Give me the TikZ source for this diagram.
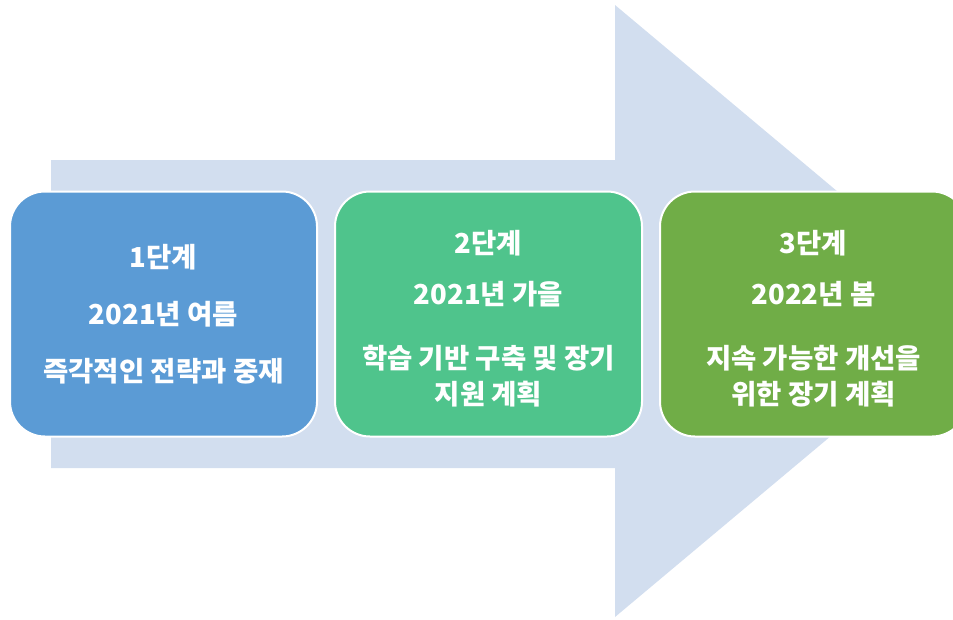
\documentclass[tikz,border=0pt]{standalone}
\usepackage{fontspec}
\usepackage{xcolor}
\setmainfont{Noto Sans CJK KR}
\usetikzlibrary{positioning}

\definecolor{arrowbg}{HTML}{D2DEEF}
\definecolor{phaseA}{HTML}{5B9BD5}
\definecolor{phaseB}{HTML}{4FC48C}
\definecolor{phaseC}{HTML}{70AD47}

\begin{document}
\begin{tikzpicture}[
        x=1pt, y=-1pt,
        node distance=16pt and 16pt,
        every node/.style={font=\bfseries\fontsize{27.5pt}{36pt}\selectfont},
        phase/.style={rectangle, rounded corners=35pt, draw=white, line width=2pt, text=white,
            minimum width=307pt, minimum height=245pt, align=center, inner sep=0pt}
    ]
        \useasboundingbox (0,0) rectangle (953,619);
        \clip (0,0) rectangle (953,619);

        % big arrow behind the phases
        \fill[arrowbg] (51,160) -- (615,160) -- (615,5) -- (980,311) -- (615,617) -- (615,468) -- (51,468) -- cycle;

        \node[phase, fill=phaseA] (p1) at (163.5,314) {1단계\\[21pt] 2021년 여름\\[21pt] 즉각적인 전략과 중재};
        \node[phase, fill=phaseB, right=of p1] (p2) {\rule{0pt}{32pt}2단계\\[15pt] 2021년 가을\\[28pt] 학습 기반 구축 및 장기\\ 지원 계획};
        \node[phase, fill=phaseC, right=of p2] (p3) {\rule{0pt}{32pt}3단계\\[15pt] 2022년 봄\\[28pt] 지속 가능한 개선을\\ 위한 장기 계획};

    \end{tikzpicture}
\end{document}
